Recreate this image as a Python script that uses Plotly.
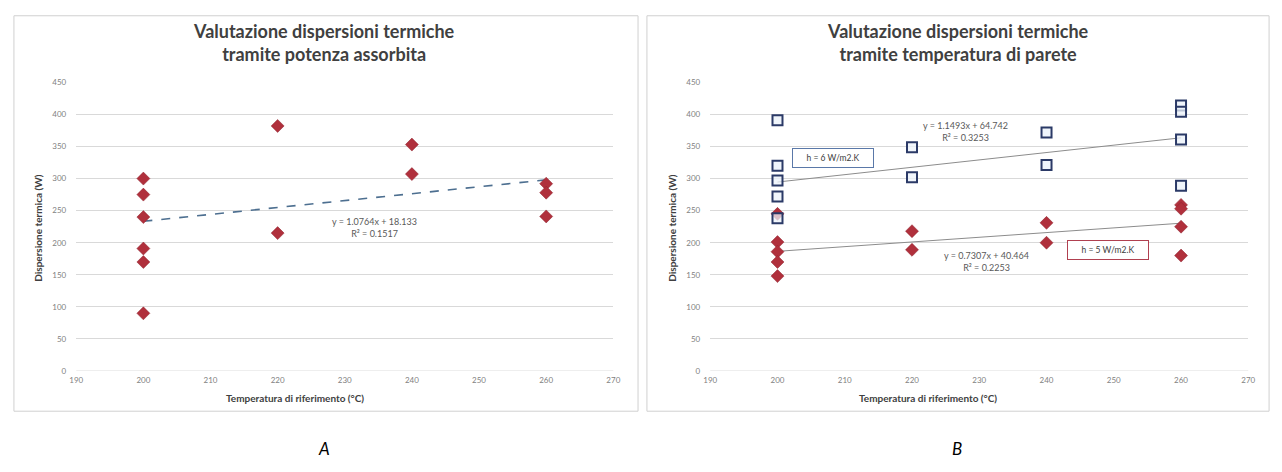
import plotly.graph_objects as go

W, H = 1282, 472

# ---- Data (chart A) ----
a_x = [200, 200, 200, 200, 200, 200, 220, 220, 240, 240, 260, 260, 260]
a_y = [300, 275, 240, 191, 170, 90, 382, 215, 353, 307, 292, 278, 241]
a_slope, a_inter = 1.0764, 18.133
a_eq = "y = 1.0764x + 18.133<br>R² = 0.1517"

# ---- Data (chart B) ----
b_red_x = [200, 200, 200, 200, 200, 220, 220, 240, 240, 260, 260, 260, 260]
b_red_y = [245, 201, 186, 170, 148, 218, 189, 231, 200, 259, 253, 225, 180]
b_blue_x = [200, 200, 200, 200, 200, 220, 220, 240, 240, 260, 260, 260, 260]
b_blue_y = [391, 320, 297, 272, 238, 349, 302, 372, 321, 414, 404, 361, 289]
b_red_slope, b_red_inter = 0.7307, 40.464
b_blue_slope, b_blue_inter = 1.1493, 64.742
b_red_eq = "y = 0.7307x + 40.464<br>R² = 0.2253"
b_blue_eq = "y = 1.1493x + 64.742<br>R² = 0.3253"
fit_x = [200, 260]

title_a = "Valutazione dispersioni termiche<br>tramite potenza assorbita"
title_b = "Valutazione dispersioni termiche<br>tramite temperatura di parete"
x_title = "Temperatura di riferimento (°C)"
y_title = "Dispersione termica (W)"

FONT = "Lato, 'Open Sans', sans-serif"
RED = "#b0303c"
NAVY = "#2b3a67"

def px(v):
    return v / W

def py(v):
    return 1 - v / H

fig = go.Figure()

# Chart A
fig.add_trace(go.Scatter(x=fit_x, y=[a_slope * v + a_inter for v in fit_x], mode="lines",
                         line=dict(color="#4d6f90", width=1.6, dash="dash"),
                         xaxis="x", yaxis="y", showlegend=False))
fig.add_trace(go.Scatter(x=a_x, y=a_y, mode="markers",
                         marker=dict(symbol="diamond", size=10, color=RED,
                                     line=dict(color="#8e2430", width=0.5)),
                         xaxis="x", yaxis="y", showlegend=False))

# Chart B
fig.add_trace(go.Scatter(x=fit_x, y=[b_red_slope * v + b_red_inter for v in fit_x], mode="lines",
                         line=dict(color="#8c8c8c", width=1),
                         xaxis="x2", yaxis="y2", showlegend=False))
fig.add_trace(go.Scatter(x=fit_x, y=[b_blue_slope * v + b_blue_inter for v in fit_x], mode="lines",
                         line=dict(color="#8c8c8c", width=1),
                         xaxis="x2", yaxis="y2", showlegend=False))
fig.add_trace(go.Scatter(x=b_red_x, y=b_red_y, mode="markers",
                         marker=dict(symbol="diamond", size=10, color=RED,
                                     line=dict(color="#8e2430", width=0.5)),
                         xaxis="x2", yaxis="y2", showlegend=False))
fig.add_trace(go.Scatter(x=b_blue_x, y=b_blue_y, mode="markers",
                         marker=dict(symbol="square", size=10, color="rgba(235,242,250,0.75)",
                                     line=dict(color=NAVY, width=2)),
                         xaxis="x2", yaxis="y2", showlegend=False))

ydom = [py(374), py(79)]
common_x = dict(range=[190, 270], dtick=10, showgrid=False, zeroline=False,
                ticks="", tickfont=dict(size=8, color="#7f7f7f", family=FONT),
                ticklabelstandoff=3, showline=False, fixedrange=True)
common_y = dict(range=[0, 450], dtick=50, showgrid=True, gridcolor="#d9d9d9", gridwidth=1,
                zeroline=False, ticks="", tickfont=dict(size=8, color="#7f7f7f", family=FONT),
                ticklabelstandoff=9, showline=False, fixedrange=True)

fig.update_layout(
    width=W, height=H,
    margin=dict(l=0, r=0, t=0, b=0),
    paper_bgcolor="white", plot_bgcolor="white",
    font=dict(family=FONT),
    xaxis=dict(domain=[px(70), px(613)], anchor="y", **common_x),
    yaxis=dict(domain=ydom, anchor="x", **common_y),
    xaxis2=dict(domain=[px(711), px(1255)], anchor="y2", **common_x),
    yaxis2=dict(domain=ydom, anchor="x2", **common_y),
)

# baseline at 0
for xa, ya in (("x", "y"), ("x2", "y2")):
    fig.add_shape(type="line", xref=xa + " domain", yref=ya, x0=0, x1=1, y0=0, y1=0,
                  line=dict(color="#d9d9d9", width=1))

# outer chart borders
for x0, x1 in ((7, 638), (647, 1276)):
    fig.add_shape(type="rect", xref="paper", yref="paper", x0=px(x0), x1=px(x1),
                  y0=py(415), y1=py(11), line=dict(color="#d0d0d0", width=1))

ann = []
# Titles
for cx, t in ((321, title_a), (961, title_b)):
    ann.append(dict(x=px(cx), y=py(38), xref="paper", yref="paper", text="<b>" + t + "</b>",
                    showarrow=False, font=dict(size=18, color="#404040", family=FONT),
                    xanchor="center", yanchor="middle", align="center"))
# Axis titles
for cx in (291, 931):
    ann.append(dict(x=px(cx), y=py(401), xref="paper", yref="paper", text="<b>" + x_title + "</b>",
                    showarrow=False, font=dict(size=10, color="#404040", family=FONT),
                    xanchor="center", yanchor="middle"))
for cx in (32, 673):
    ann.append(dict(x=px(cx), y=py(228), xref="paper", yref="paper", text="<b>" + y_title + "</b>",
                    showarrow=False, textangle=-90, font=dict(size=10, color="#404040", family=FONT),
                    xanchor="center", yanchor="middle"))
# Captions
for cx, t in ((320, "A"), (960, "B")):
    ann.append(dict(x=px(cx), y=py(453), xref="paper", yref="paper", text="<i>" + t + "</i>",
                    showarrow=False, font=dict(size=17, color="#000000", family=FONT),
                    xanchor="center", yanchor="middle"))
# Equations
eqfont = dict(size=9, color="#595959", family=FONT)
ann.append(dict(x=234.5, y=223.6, xref="x", yref="y", text=a_eq, showarrow=False, font=eqfont))
ann.append(dict(x=227.9, y=373, xref="x2", yref="y2", text=b_blue_eq, showarrow=False, font=eqfont))
ann.append(dict(x=231.1, y=171.5, xref="x2", yref="y2", text=b_red_eq, showarrow=False, font=eqfont))
# Boxes
ann.append(dict(x=208.3, y=332, xref="x2", yref="y2", text="h = 6 W/m2.K", showarrow=False,
                font=dict(size=8.5, color="#404040", family=FONT), width=78, height=16,
                bordercolor="#5a78a8", borderwidth=1, bgcolor="white"))
ann.append(dict(x=249.2, y=188, xref="x2", yref="y2", text="h = 5 W/m2.K", showarrow=False,
                font=dict(size=8.5, color="#404040", family=FONT), width=78, height=16,
                bordercolor="#b04050", borderwidth=1, bgcolor="white"))

fig.update_layout(annotations=ann)

fig.write_html("out.html", config={"displayModeBar": False},
               post_script="document.body.style.margin='0';document.body.style.overflow='hidden';")
